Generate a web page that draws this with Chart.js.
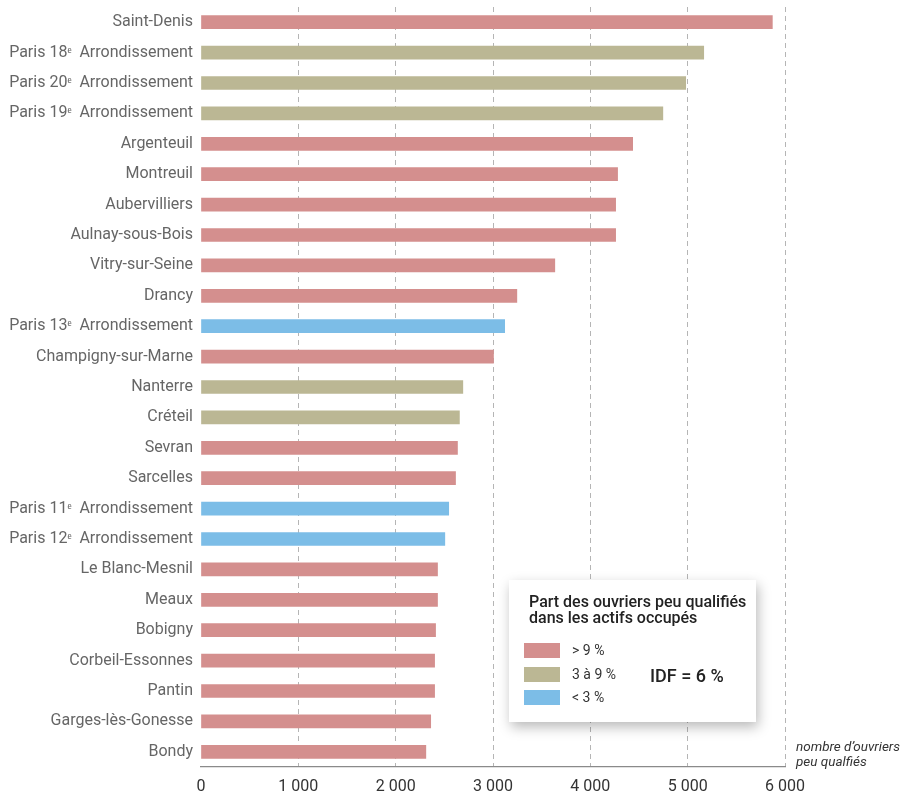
<!DOCTYPE html>
<html>
<head>
<meta charset="utf-8">
<script src="https://cdn.jsdelivr.net/npm/chart.js@4"></script>
<style>
    body { margin: 0; background: #fff; font-family: Roboto, "Noto Sans", sans-serif; }
    #wrap { position: relative; width: 904px; height: 797px; }
    #legend {
        position: absolute; left: 509px; top: 580px; width: 247px; height: 142px;
        background: #fff; box-shadow: 2px 5px 12px rgba(0,0,0,0.28);
    }
    #legend .title { position: absolute; left: 20px; top: 14px; font-size: 16px; font-weight: 500; line-height: 16px; color: #222; }
    #legend .item { position: absolute; left: 15px; height: 15px; }
    #legend .sw { display: inline-block; width: 36px; height: 15px; vertical-align: top; }
    #legend .lbl { position: absolute; left: 48px; top: 0; font-size: 14px; line-height: 15px; color: #333; white-space: nowrap; }
    #legend .idf { position: absolute; left: 141px; top: 85px; font-size: 18px; font-weight: 500; color: #222; }
    #note { position: absolute; left: 796px; top: 739px; font-size: 13.5px; font-style: italic; line-height: 15px; color: #333; }
</style>
</head>
<body>
<div id="wrap">
    <canvas id="chart"></canvas>
    <div id="legend"></div>
    <div id="note">nombre d’ouvriers<br>peu qualfiés</div>
</div>
<script>
const categories = [
    'Saint-Denis', 'Paris 18ᵉ  Arrondissement', 'Paris 20ᵉ  Arrondissement', 'Paris 19ᵉ  Arrondissement',
    'Argenteuil', 'Montreuil', 'Aubervilliers', 'Aulnay-sous-Bois', 'Vitry-sur-Seine', 'Drancy',
    'Paris 13ᵉ  Arrondissement', 'Champigny-sur-Marne', 'Nanterre', 'Créteil', 'Sevran', 'Sarcelles',
    'Paris 11ᵉ  Arrondissement', 'Paris 12ᵉ  Arrondissement', 'Le Blanc-Mesnil', 'Meaux', 'Bobigny',
    'Corbeil-Essonnes', 'Pantin', 'Garges-lès-Gonesse', 'Bondy'
];
const ouvriers = [
    5870, 5165, 4980, 4745, 4435, 4280, 4260, 4260, 3635, 3245,
    3120, 3005, 2690, 2655, 2635, 2615, 2545, 2505, 2430, 2430,
    2410, 2400, 2400, 2360, 2310
];
// part des ouvriers peu qualifiés : 'high' > 9 %, 'mid' 3 à 9 %, 'low' < 3 %
const groups = [
    'high', 'mid', 'mid', 'mid', 'high', 'high', 'high', 'high', 'high', 'high',
    'low', 'high', 'mid', 'mid', 'high', 'high', 'low', 'low', 'high', 'high',
    'high', 'high', 'high', 'high', 'high'
];
const groupKeys = ['high', 'mid', 'low'];
const groupLabels = ['> 9 %', '3 à 9 %', '< 3 %'];
const groupColors = { high: '#d48f8e', mid: '#bbb794', low: '#7cbde7' };
const xTicks = [0, 1000, 2000, 3000, 4000, 5000, 6000];

// legende en HTML
const legend = document.getElementById('legend');
let html = '<div class="title">Part des ouvriers peu qualifiés<br>dans les actifs occupés</div>';
groupKeys.forEach((key, i) => {
    html += '<div class="item" style="top:' + (63 + i * 23.5) + 'px"><span class="sw" style="background:' +
        groupColors[key] + '"></span><span class="lbl">' + groupLabels[i].replace('<', '&lt;').replace('>', '&gt;') + '</span></div>';
});
html += '<div class="idf">IDF = 6 %</div>';
legend.innerHTML = html;

function formatNumber(v) {
    return String(v).replace(/\B(?=(\d{3})+(?!\d))/g, ' ');
}

const ctx = document.getElementById('chart').getContext('2d');
const chart = new Chart(ctx, {
    type: 'bar',
    data: {
        labels: categories,
        datasets: [{
            data: ouvriers,
            backgroundColor: groups.map(g => groupColors[g]),
            barThickness: 13
        }]
    },
    options: {
        indexAxis: 'y',
        responsive: true,
        maintainAspectRatio: false,
        animation: false,
        layout: { padding: { top: 7, right: 119, left: 0, bottom: 0 } },
        plugins: { legend: { display: false }, tooltip: { enabled: false } },
        scales: {
            x: {
                min: 0,
                max: 6000,
                afterBuildTicks: scale => { scale.ticks = xTicks.map(v => ({ value: v })); },
                afterFit: scale => { scale.height = 30; },
                ticks: {
                    callback: v => formatNumber(v),
                    color: '#333',
                    font: { family: 'Roboto', size: 16 },
                    padding: 10,
                    maxRotation: 0
                },
                grid: {
                    color: c => (c.tick && c.tick.value === 0) ? 'rgba(0,0,0,0)' : '#b5b5b5',
                    drawTicks: false,
                    lineWidth: 1
                },
                border: { display: true, color: '#8a8a8a', width: 1.2, dash: [5, 4] }
            },
            y: {
                afterFit: scale => {
                    scale.width = 201;
                    scale.paddingTop = 0;
                    scale.paddingBottom = 0;
                },
                ticks: {
                    color: '#666',
                    font: { family: 'Roboto', size: 16 },
                    padding: 8,
                    autoSkip: false
                },
                grid: { display: false, drawTicks: false },
                border: { display: false }
            }
        }
    }
});
</script>
</body>
</html>
